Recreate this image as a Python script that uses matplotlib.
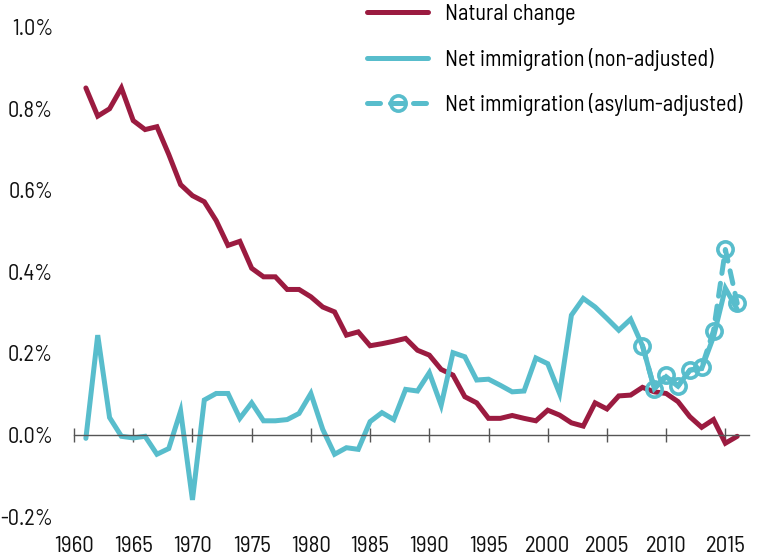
import matplotlib
matplotlib.use("Agg")
import matplotlib.pyplot as plt
import numpy as np

# Datos (porcentaje de la poblacion)
years = np.arange(1961, 2017)

natural_change = [0.851, 0.782, 0.800, 0.851, 0.771, 0.749, 0.756, 0.688, 0.614, 0.587,
                  0.572, 0.526, 0.465, 0.475, 0.409, 0.388, 0.388, 0.357, 0.357, 0.339,
                  0.314, 0.302, 0.245, 0.253, 0.219, 0.224, 0.230, 0.237, 0.208, 0.196,
                  0.161, 0.147, 0.094, 0.079, 0.041, 0.041, 0.048, 0.041, 0.035, 0.061,
                  0.049, 0.030, 0.022, 0.079, 0.064, 0.096, 0.098, 0.117, 0.106, 0.102,
                  0.082, 0.045, 0.019, 0.038, -0.020, -0.003]

net_immigration = [-0.008, 0.245, 0.043, -0.003, -0.007, -0.003, -0.047, -0.033, 0.059, -0.159,
                   0.086, 0.102, 0.102, 0.041, 0.079, 0.035, 0.035, 0.038, 0.053, 0.102,
                   0.014, -0.047, -0.031, -0.035, 0.033, 0.055, 0.038, 0.112, 0.108, 0.153,
                   0.073, 0.202, 0.192, 0.135, 0.137, 0.122, 0.106, 0.108, 0.189, 0.175,
                   0.102, 0.294, 0.335, 0.314, 0.286, 0.257, 0.284, 0.219, 0.114, 0.143,
                   0.120, 0.159, 0.163, 0.241, 0.360, 0.308]

asylum_years = np.arange(2008, 2017)
net_immigration_adj = [0.219, 0.114, 0.147, 0.120, 0.159, 0.166, 0.256, 0.455, 0.323]

xticks = np.arange(1960, 2016, 5)
yticks = [-0.2, 0.0, 0.2, 0.4, 0.6, 0.8, 1.0]

maroon = "#9b1b40"
cyan = "#58bdcc"

plt.rcParams['font.family'] = ['Barlow Semi Condensed', 'DejaVu Sans']

fig = plt.figure(figsize=(7.57, 5.57), dpi=100)
ax = fig.add_axes([0.0978, 0.0578, 0.8917, 0.930])

ax.plot(years, natural_change, color=maroon, lw=3.6, solid_capstyle='round',
        solid_joinstyle='miter', label="Natural change")
ax.plot(years, net_immigration, color=cyan, lw=3.6, solid_capstyle='round',
        solid_joinstyle='miter', label="Net immigration (non-adjusted)")
ax.plot(asylum_years, net_immigration_adj, color=cyan, lw=3.6, dashes=(2.6, 2.0),
        dash_capstyle='round', marker='o', ms=11, mfc='none', mec=cyan, mew=2.6,
        label="Net immigration (asylum-adjusted)")

ax.set_xlim(1960, 2017)
ax.set_ylim(-0.22, 1.05)

ax.spines['left'].set_visible(False)
ax.spines['right'].set_visible(False)
ax.spines['top'].set_visible(False)
ax.spines['bottom'].set_position(('data', 0))
ax.spines['bottom'].set_color("#555555")
ax.spines['bottom'].set_linewidth(1.0)

ax.set_xticks(xticks)
ax.set_xticklabels([str(y) for y in xticks])
ax.tick_params(axis='x', direction='inout', length=10, width=1.0, color="#555555",
               pad=68, labelsize=16.5, labelcolor="#111111")
ax.set_yticks(yticks)
ax.set_yticklabels(["%.1f%%" % v for v in yticks])
ax.tick_params(axis='y', length=0, pad=15, labelsize=16, labelcolor="#111111")

leg = ax.legend(loc='upper left', bbox_to_anchor=(367/757, 0.993), bbox_transform=fig.transFigure,
                frameon=False, fontsize=16, handlelength=2.75, handletextpad=0.75,
                labelspacing=1.02, borderpad=0, borderaxespad=0, numpoints=1)

fig.savefig("out.png", dpi=100)
